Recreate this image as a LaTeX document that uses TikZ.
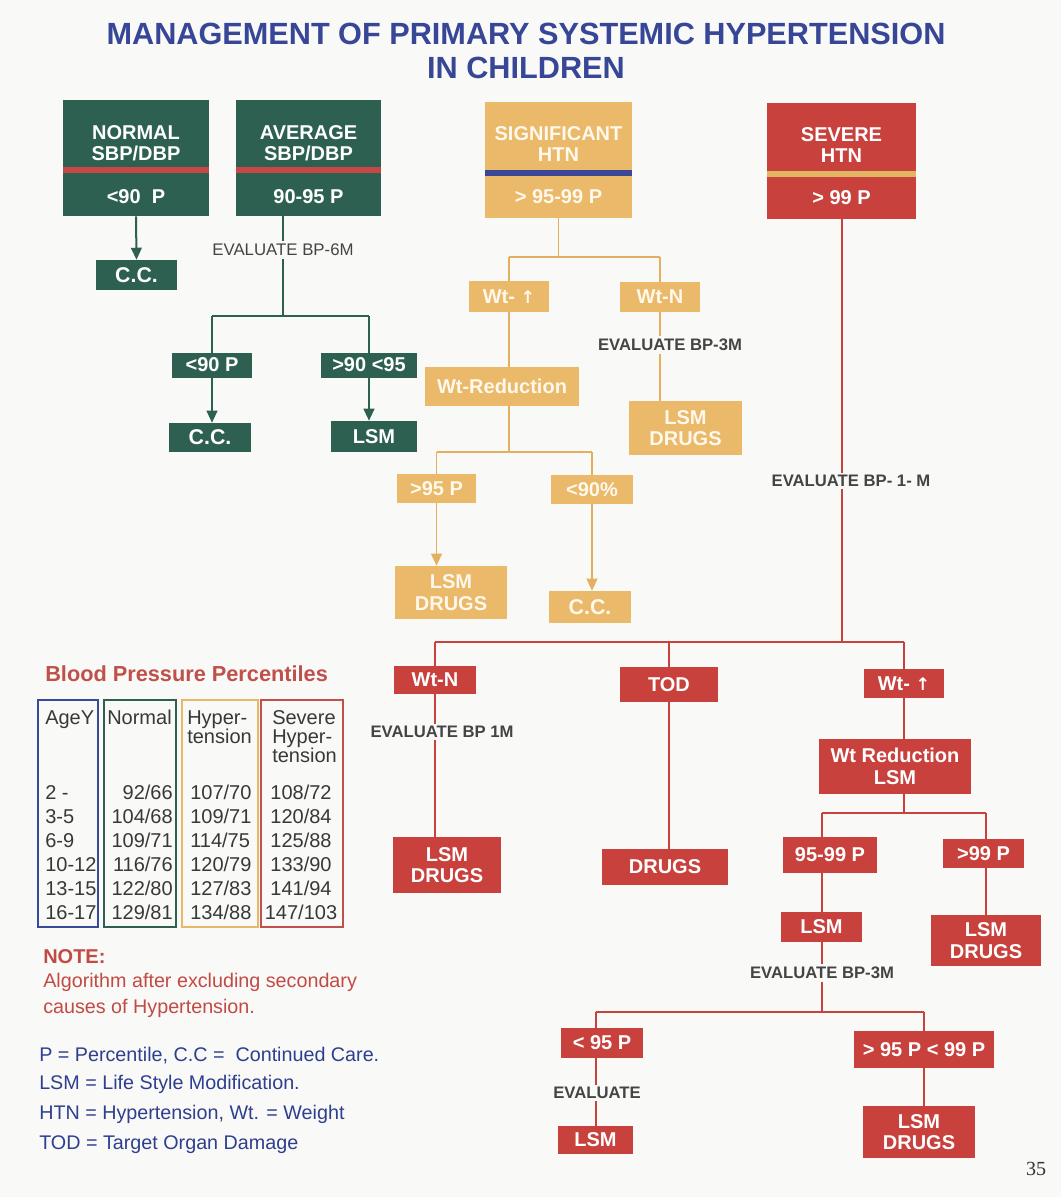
\documentclass[tikz,border=0pt]{standalone}
\usepackage{fontspec}
\setmainfont{Liberation Sans}
\newfontfamily\arrowfont{DejaVu Sans}
\newfontfamily\pagefont{Liberation Serif}
\usetikzlibrary{arrows.meta,backgrounds}
\definecolor{bg}{HTML}{F9F9F7}
\definecolor{gr}{HTML}{2D6050}
\definecolor{orb}{HTML}{EAB969}
\definecolor{orl}{HTML}{E3B060}
\definecolor{ortext}{HTML}{FFF8EC}
\definecolor{rd}{HTML}{C8413C}
\definecolor{rstripe}{HTML}{C84646}
\definecolor{bstripe}{HTML}{3C4696}
\definecolor{ostripe}{HTML}{E2B565}
\definecolor{titleblue}{HTML}{374696}
\definecolor{tblue}{HTML}{3A4A9A}
\definecolor{tred}{HTML}{C0504A}
\definecolor{tor}{HTML}{E6B868}
\definecolor{notered}{HTML}{C24A45}
\definecolor{noteblue}{HTML}{2E3F8F}
\definecolor{lblgray}{HTML}{444444}
\definecolor{tabtext}{HTML}{383838}
\tikzset{
  box/.style={rectangle, inner sep=0pt, align=center, font=\fontsize{15}{16}\selectfont\bfseries},
  gbox/.style={box, fill=gr, text=white},
  obox/.style={box, fill=orb, text=ortext},
  rbox/.style={box, fill=rd, text=white},
  gtxt/.style={inner sep=0pt, align=center, text=white, font=\fontsize{15}{15.75}\selectfont\bfseries},
  otxt/.style={gtxt, text=ortext},
  lbl/.style={fill=bg, inner sep=2pt, text=lblgray, font=\fontsize{12.6}{14}\selectfont},
  lblb/.style={fill=bg, inner sep=2pt, text=lblgray, font=\fontsize{12.5}{14}\selectfont\bfseries},
  gline/.style={draw=gr, line width=1.5pt},
  garrow/.style={gline, -{Triangle[length=9pt,width=8pt]}},
  oline/.style={draw=orl, line width=1.4pt},
  oarrow/.style={oline, -{Triangle[length=9pt,width=8pt]}},
  rline/.style={draw=rd, line width=1.5pt},
  title/.style={inner sep=0pt, text=titleblue, font=\fontsize{23}{26}\selectfont\bfseries},
  tcol/.style={rectangle, inner sep=0pt, line width=1.1pt},
  ttxt/.style={inner sep=0pt, text=tabtext, font=\fontsize{15}{18}\selectfont},
  note/.style={inner sep=0pt, anchor=base west, font=\fontsize{14.8}{18}\selectfont}
}
\begin{document}
\begin{tikzpicture}[x=0.75pt,y=-0.75pt]
\begin{pgfonlayer}{background}
\fill[bg] (0,0) rectangle (1061,1197);
\end{pgfonlayer}
\useasboundingbox (0,0) rectangle (1061,1197);

% Title
\node[title, anchor=base] (t1) at (526,44) {MANAGEMENT OF PRIMARY SYSTEMIC HYPERTENSION};
\node[title, anchor=base] (t2) at (526,78) {IN CHILDREN};

% ---------- Green branch ----------
\node[gbox, minimum width=146*0.75pt, minimum height=116*0.75pt] (normal) at (136,158) {};
\fill[rstripe] (63,167) rectangle (209,173);
\node[gtxt] (normalA) at (136,143.5) {NORMAL\\SBP/DBP};
\node[gtxt] (normalB) at (136,197) {<90~ P};

\node[gbox, minimum width=145*0.75pt, minimum height=116*0.75pt] (avg) at (308.5,158) {};
\fill[rstripe] (236,167) rectangle (381,173);
\node[gtxt] (avgA) at (308.5,143.5) {AVERAGE\\SBP/DBP};
\node[gtxt] (avgB) at (308.5,197) {90-95 P};

\node[gbox, minimum width=81*0.75pt, minimum height=30*0.75pt, font=\fontsize{16}{16}\selectfont\bfseries] (cc1) at (136.5,275) {C.C.};
\node[lbl] (ev6) at (283,250) {EVALUATE BP-6M};
\coordinate (gsplit) at (283,316);
\node[gbox, minimum width=80*0.75pt, minimum height=25*0.75pt] (lt90) at (212,365) {<90 P};
\node[gbox, minimum width=96*0.75pt, minimum height=25*0.75pt] (gt90) at (369,365) {>90 <95};
\node[gbox, minimum width=82*0.75pt, minimum height=29*0.75pt, font=\fontsize{16}{16}\selectfont\bfseries] (cc2) at (210,437.5) {C.C.};
\node[gbox, minimum width=86*0.75pt, minimum height=31*0.75pt] (lsm1) at (374,436.5) {LSM};

% ---------- Orange branch ----------
\node[obox, minimum width=147*0.75pt, minimum height=116*0.75pt] (sig) at (558.5,160) {};
\fill[bstripe] (485,170) rectangle (632,176);
\node[otxt] (sigA) at (558.5,144.5) {SIGNIFICANT\\HTN};
\node[otxt] (sigB) at (558.5,197) {> 95-99 P};
\coordinate (osplit1) at (557,257);
\node[obox, minimum width=80*0.75pt, minimum height=31*0.75pt] (wtup1) at (509,296.5) {Wt- {\arrowfont\fontsize{13}{13}\selectfont ↑}};
\node[obox, minimum width=80*0.75pt, minimum height=30*0.75pt] (wtn1) at (660,297) {Wt-N};
\node[lblb] (ev3) at (670,345) {EVALUATE BP-3M};
\node[obox, minimum width=113*0.75pt, minimum height=54*0.75pt] (ld1) at (685.5,428) {LSM\\DRUGS};
\node[obox, minimum width=154*0.75pt, minimum height=39*0.75pt] (wtred) at (502,386.5) {Wt-Reduction};
\coordinate (osplit2) at (506,452);
\node[obox, minimum width=79*0.75pt, minimum height=29*0.75pt] (gt95) at (436.5,488.5) {>95 P};
\node[obox, minimum width=82*0.75pt, minimum height=29*0.75pt] (lt90p) at (592,489.5) {<90\%};
\node[obox, minimum width=112*0.75pt, minimum height=53*0.75pt] (ld2) at (451,592.5) {LSM\\DRUGS};
\node[obox, minimum width=82*0.75pt, minimum height=32*0.75pt, font=\fontsize{16}{16}\selectfont\bfseries] (cc3) at (590,607) {C.C.};

% ---------- Red branch ----------
\node[rbox, minimum width=149*0.75pt, minimum height=116*0.75pt] (sev) at (841.5,161) {};
\fill[ostripe] (767,171) rectangle (916,177);
\node[gtxt] (sevA) at (841.5,145) {SEVERE\\HTN};
\node[gtxt] (sevB) at (841.5,198) {> 99 P};
\node[lblb] (ev1) at (851,481) {EVALUATE BP- 1- M};
\coordinate (rsplit1) at (842,642);
\node[rbox, minimum width=82*0.75pt, minimum height=28*0.75pt] (wtn2) at (435,680) {Wt-N};
\node[lblb] (ev1b) at (442,732) {EVALUATE BP 1M};
\node[rbox, minimum width=108*0.75pt, minimum height=56*0.75pt] (ld3) at (447,865) {LSM\\DRUGS};
\node[rbox, minimum width=98*0.75pt, minimum height=35*0.75pt] (tod) at (669,684.5) {TOD};
\node[rbox, minimum width=126*0.75pt, minimum height=36*0.75pt] (drugs) at (665,867) {DRUGS};
\node[rbox, minimum width=80*0.75pt, minimum height=29*0.75pt] (wtup2) at (904,683.5) {Wt- {\arrowfont\fontsize{13}{13}\selectfont ↑}};
\node[rbox, minimum width=152*0.75pt, minimum height=55*0.75pt] (wrl) at (895,766.5) {Wt Reduction\\LSM};
\coordinate (rsplit2) at (906,813);
\node[rbox, minimum width=94*0.75pt, minimum height=36*0.75pt] (p9599) at (830,855) {95-99 P};
\node[rbox, minimum width=81*0.75pt, minimum height=29*0.75pt] (gt99) at (983.5,853.5) {>99 P};
\node[rbox, minimum width=81*0.75pt, minimum height=30*0.75pt] (lsm3) at (821.5,927) {LSM};
\node[rbox, minimum width=110*0.75pt, minimum height=51*0.75pt] (ld4) at (986,940.5) {LSM\\DRUGS};
\node[lblb] (ev3b) at (822,973) {EVALUATE BP-3M};
\coordinate (rsplit3) at (824,1012);
\node[rbox, minimum width=82*0.75pt, minimum height=30*0.75pt] (lt95) at (602,1043) {< 95 P};
\node[lblb] (ev) at (597,1093) {EVALUATE};
\node[rbox, minimum width=75*0.75pt, minimum height=28*0.75pt] (lsm4) at (595.5,1140) {LSM};
\node[rbox, minimum width=140*0.75pt, minimum height=37*0.75pt] (gt95lt99) at (924,1049.5) {> 95 P < 99 P};
\node[rbox, minimum width=112*0.75pt, minimum height=52*0.75pt] (ld5) at (919,1132) {LSM\\DRUGS};

% ---------- Connectors (behind boxes) ----------
\begin{pgfonlayer}{background}
\draw[garrow] (normal.south) -- (cc1.north);
\draw[gline] (avg.south -| gsplit) -- (gsplit);
\draw[gline] (lt90.north |- gsplit) -- (gt90.north |- gsplit);
\draw[garrow] (lt90.north |- gsplit) -- (lt90.north |- cc2.north);
\draw[garrow] (gt90.north |- gsplit) -- (gt90.north |- lsm1.north);

\draw[oline] (sig.south) -- (sig.south |- osplit1);
\draw[oline] (wtup1.north |- osplit1) -- (wtn1.north |- osplit1);
\draw[oline] (wtup1.north |- osplit1) -- (wtup1.north);
\draw[oline] (wtn1.north |- osplit1) -- (wtn1.north);
\draw[oline] (wtn1.south) -- (wtn1.south |- ld1.north);
\draw[oline] (wtup1.south) -- (wtup1.south |- wtred.north);
\draw[oline] (wtup1.south |- wtred.south) -- (wtup1.south |- osplit2);
\draw[oline] (gt95.north |- osplit2) -- (lt90p.north |- osplit2);
\draw[oline] (gt95.north |- osplit2) -- (gt95.north);
\draw[oline] (lt90p.north |- osplit2) -- (lt90p.north);
\draw[oarrow] (gt95.south) -- (gt95.south |- ld2.north);
\draw[oarrow] (lt90p.south) -- (lt90p.south |- cc3.north);

\draw[rline] (sev.south) -- (sev.south |- rsplit1);
\draw[rline] (wtn2.north |- rsplit1) -- (wtup2.north |- rsplit1);
\draw[rline] (wtn2.north |- rsplit1) -- (wtn2.north);
\draw[rline] (tod.north |- rsplit1) -- (tod.north);
\draw[rline] (wtup2.north |- rsplit1) -- (wtup2.north);
\draw[rline] (wtn2.south) -- (wtn2.south |- ld3.north);
\draw[rline] (tod.south) -- (tod.south |- drugs.north);
\draw[rline] (wtup2.south) -- (wtup2.south |- wrl.north);
\draw[rline] (wtup2.south |- wrl.south) -- (wtup2.south |- rsplit2);
\draw[rline] (lsm3.north |- rsplit2) -- (ld4.north |- rsplit2);
\draw[rline] (lsm3.north |- rsplit2) -- (lsm3.north);
\draw[rline] (ld4.north |- rsplit2) -- (ld4.north);
\draw[rline] (lsm3.south) -- (lsm3.south |- rsplit3);
\draw[rline] (lsm4.north |- rsplit3) -- (gt95lt99.north |- rsplit3);
\draw[rline] (lsm4.north |- rsplit3) -- (lsm4.north);
\draw[rline] (gt95lt99.north |- rsplit3) -- (gt95lt99.north);
\draw[rline] (gt95lt99.south) -- (gt95lt99.south |- ld5.north);
\end{pgfonlayer}

% ---------- Table ----------
\node[inner sep=0pt, anchor=base west, text=tred, font=\fontsize{16.3}{18}\selectfont\bfseries] (bpp) at (45,681) {Blood Pressure Percentiles};
\node[tcol, draw=tblue, minimum width=60*0.75pt, minimum height=227*0.75pt] (colage) at (68,813.5) {};
\node[tcol, draw=gr, minimum width=72*0.75pt, minimum height=227*0.75pt] (colnorm) at (140,813.5) {};
\node[tcol, draw=tor, minimum width=76*0.75pt, minimum height=227*0.75pt] (colhyp) at (220,813.5) {};
\node[tcol, draw=tred, minimum width=82*0.75pt, minimum height=227*0.75pt] (colsev) at (302,813.5) {};

\node[ttxt, anchor=base west] (hage) at (45,724) {AgeY};
\node[ttxt, anchor=base west] (hnorm) at (107,724) {Normal};
\node[ttxt, anchor=base west] (hhyp1) at (187,724) {Hyper-};
\node[ttxt, anchor=base west] (hhyp2) at (187,743) {tension};
\node[ttxt, anchor=base west] (hsev1) at (272,724) {Severe};
\node[ttxt, anchor=base west] (hsev2) at (272,743) {Hyper-};
\node[ttxt, anchor=base west] (hsev3) at (272,762) {tension};

\foreach \a/\n/\h/\s [count=\i from 0] in {{2 -}/{92/66}/{107/70}/{108/72},{3-5}/{104/68}/{109/71}/{120/84},{6-9}/{109/71}/{114/75}/{125/88},{10-12}/{116/76}/{120/79}/{133/90},{13-15}/{122/80}/{127/83}/{141/94},{16-17}/{129/81}/{134/88}/{147/103}}{
  \node[ttxt, anchor=base west] (ra\i) at (45,{799+24*\i}) {\a};
  \node[ttxt, anchor=base east] (rn\i) at (173,{799+24*\i}) {\n};
  \node[ttxt, anchor=base west] (rh\i) at (190,{799+24*\i}) {\h};
  \node[ttxt, anchor=base] (rs\i) at (301,{799+24*\i}) {\s};
}

% ---------- Notes ----------
\node[note, text=notered, font=\fontsize{15}{18}\selectfont\bfseries] (n0) at (43,963) {NOTE:};
\node[note, text=notered] (n1) at (43,987) {Algorithm after excluding secondary};
\node[note, text=notered] (n2) at (43,1013) {causes of Hypertension.};
\node[note, text=noteblue] (n3) at (39,1061) {P = Percentile, C.C =~ Continued Care.};
\node[note, text=noteblue] (n4) at (39,1089) {LSM = Life Style Modification.};
\node[note, text=noteblue] (n5) at (39,1119) {HTN = Hypertension, Wt. = Weight};
\node[note, text=noteblue] (n6) at (39,1149) {TOD = Target Organ Damage};

\node[inner sep=0pt, anchor=base, text=black!80, font=\pagefont\fontsize{15}{15}\selectfont] (pg) at (1036,1175) {35};
\end{tikzpicture}
\end{document}
